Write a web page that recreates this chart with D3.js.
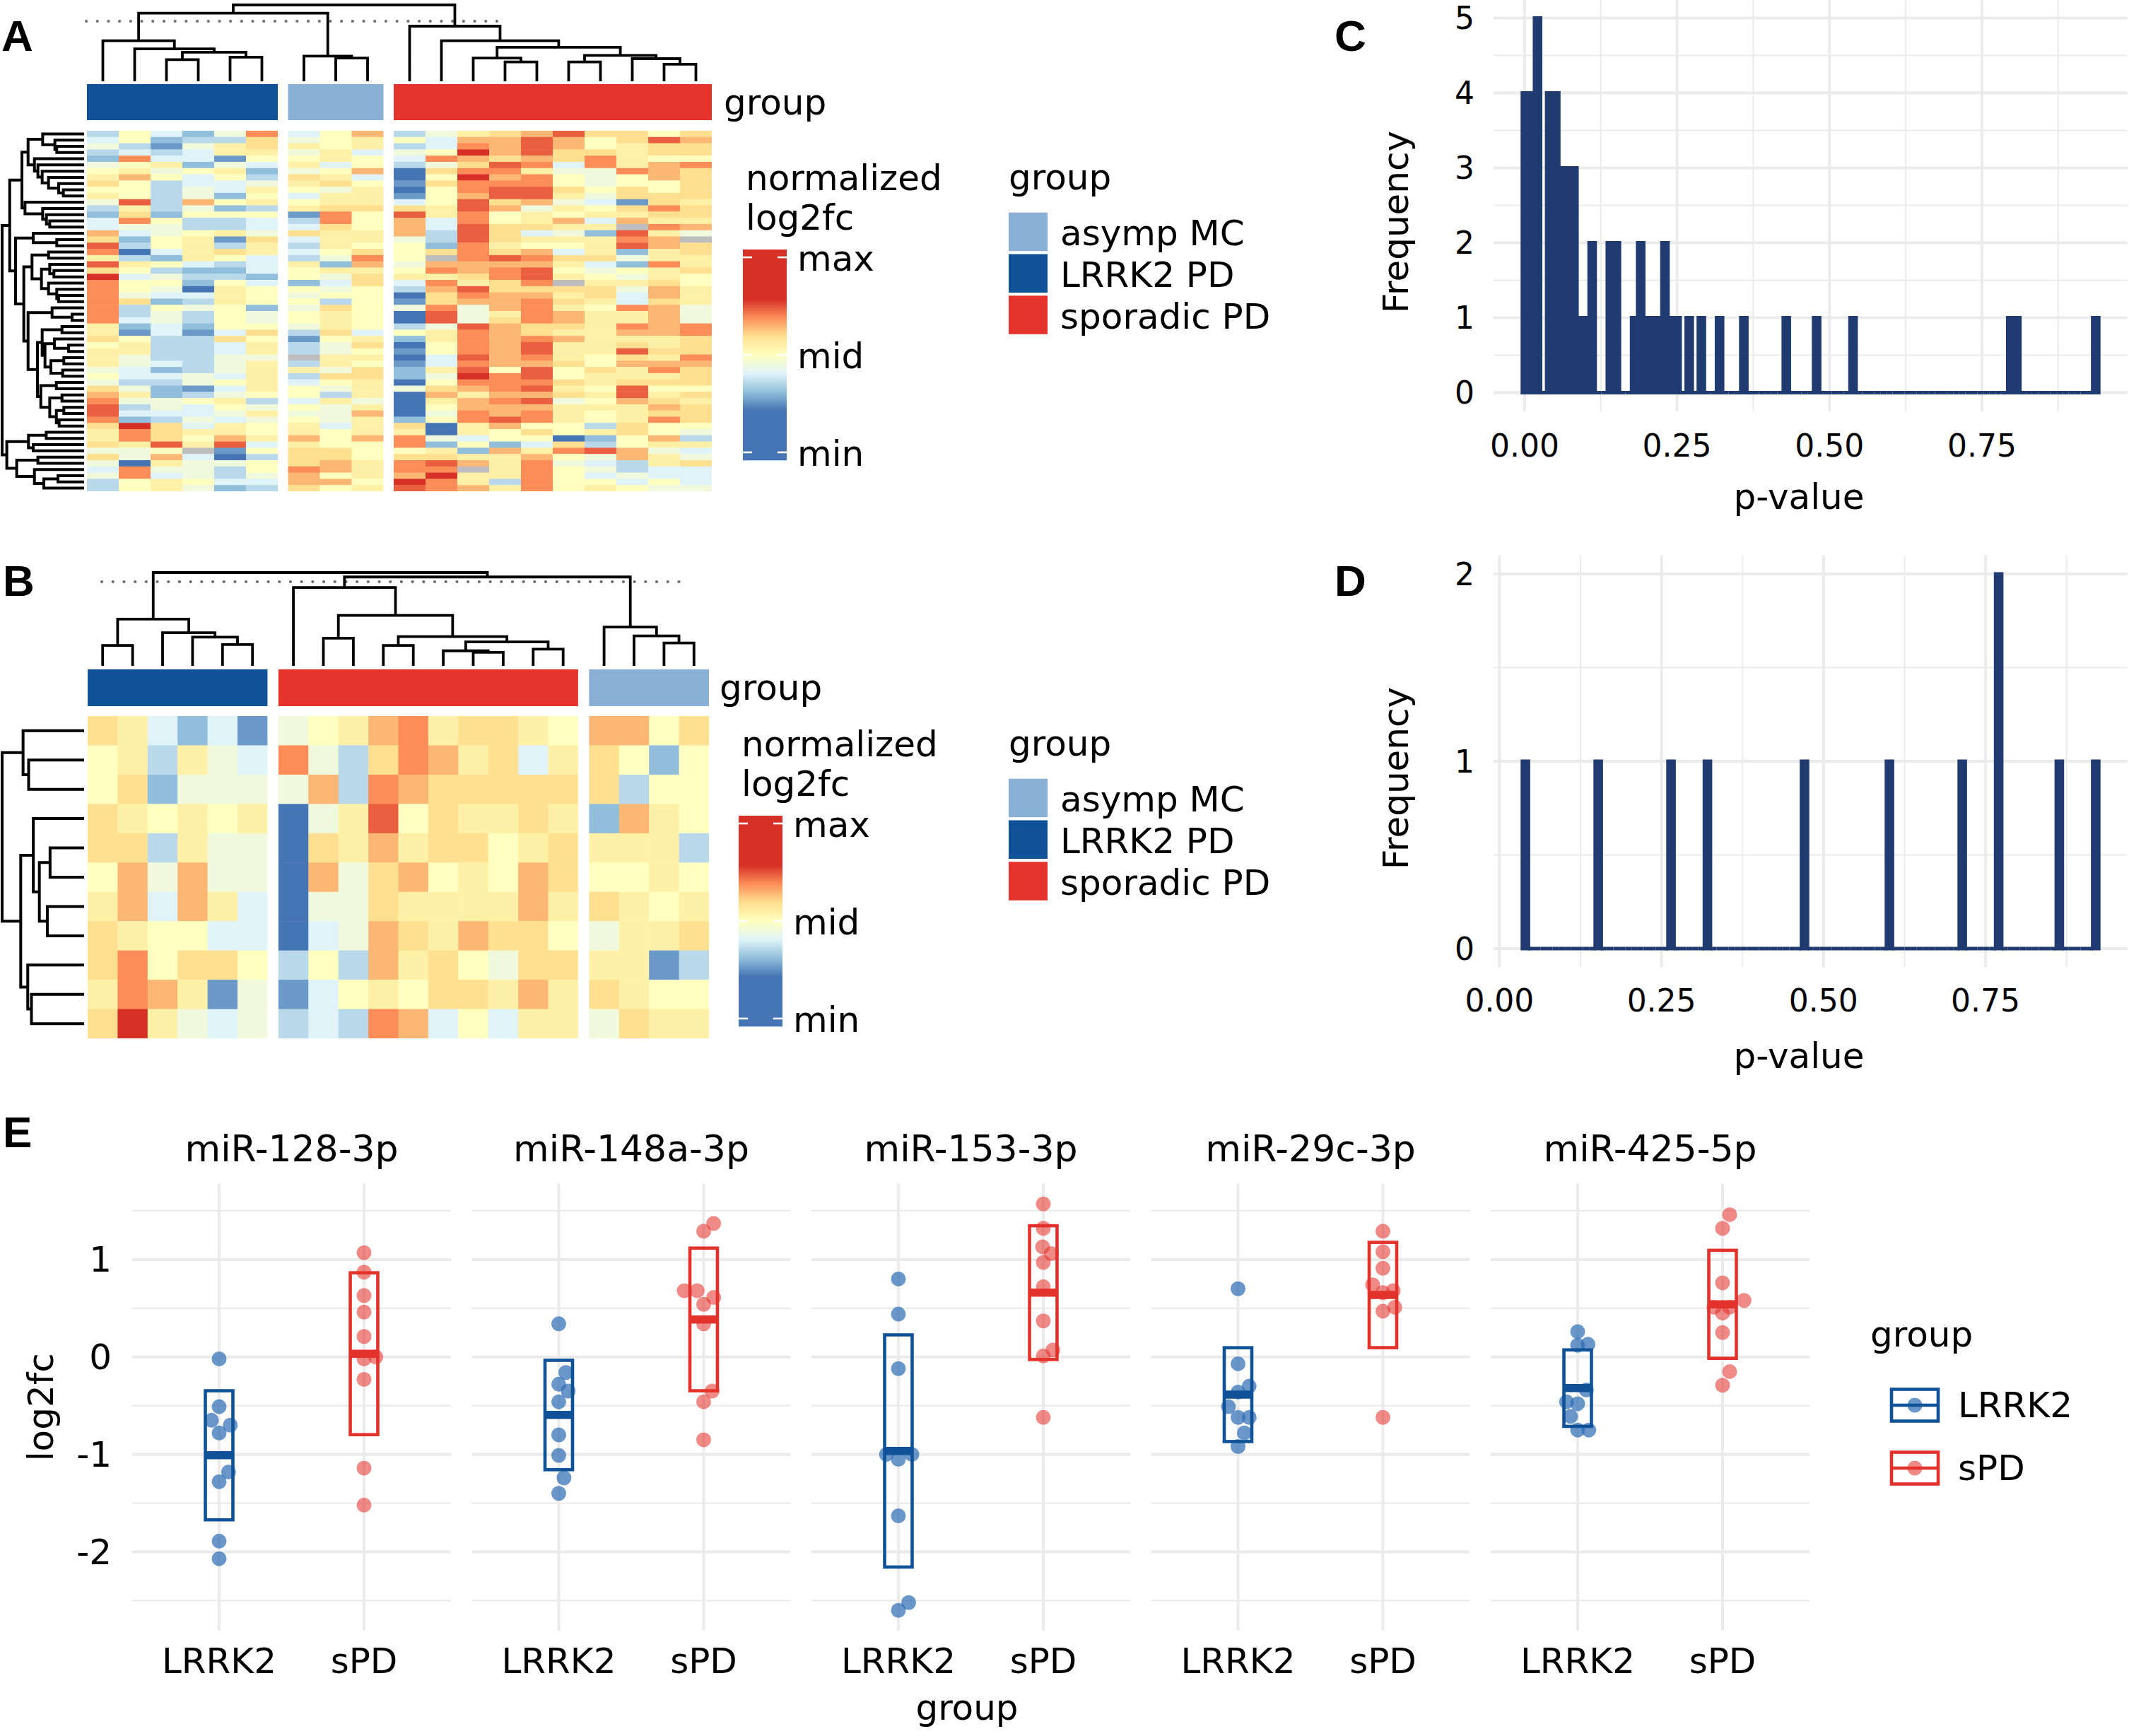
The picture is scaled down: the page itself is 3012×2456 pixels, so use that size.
<!DOCTYPE html>
<html>
<head>
<meta charset="utf-8">
<title>Figure</title>
<script src="https://cdn.jsdelivr.net/npm/d3@7/dist/d3.min.js"></script>
<style>
html,body{margin:0;padding:0;background:#fff;}
svg{display:block;}
</style>
</head>
<body>
<svg id="fig" xmlns="http://www.w3.org/2000/svg" width="3012" height="2456"></svg>
<script>
// ====================== DATA ======================
// Heatmap cells, 13 levels: A = min (deep blue) ... G = mid ... M = max (deep red); x = NA (grey)
const heatLevels = "ABCDEFGHIJKLM";

const heatAGroups = ["LRRK2 PD", "asymp MC", "sporadic PD"];
const heatAGroupSizes = [6, 3, 10];
const heatARows = [
"DGECFK EGJ DFHIJLIIGI","EGCDDI FGH GEJJLJGILJ","FDBFHI HGH DEKJLJGHII","DEDEHH FHE FGMJLIIHII",
"CKEEBG GHG EKJIJIKHGG","FGHCFE HEG DFILKEKHJK","GHFGHC FGJ AIKKHFFKJI","HJGEGD IHE AGMJKGFGJI",
"IGDEEF HIG BIKKKGFGGI","GGDFEH GFH AGKLLIGIGI","HGDFCG EHH BGJLLHFIII","FLDJGH GHH EGLIJFEBIH",
"DHDFCD HII IHLJFHGIKI","CICGGG BKG LHKGHGHHII","EKGDDE DKG JEKGHJEJHH","EFFDDE EIG JELIIHHxKJ",
"JEFGHF IHH JDLIEFCLHF","ICGHBI EHH FDLIHHHKJx","LDGHDH DHG GCKHGGHLJI","KAEHIH EGI GIKIJEHCHI",
"HDCHGE DFK GxKLKIIFHH","LHGEDE HCJ FJJJJHECKH","IGDCCE GHH GKJKLGFGHI","MEFDDC GFI HHIKLHGFHG",
"KGGCGE CEI EKHIKxHHIG","KGFAHG GFG DJLIIIIFJH","KFEEHG FGG AIKJJHIEJH","KICDHG GDG BIJJKIHEIH",
"KDGFGC FIG FKFJKHGKJF","KDFDGF GHG ALFHKJHHJF","KEFDGF GHG ALFIKJHHJF","HCECGG FHG DFLJIIHKJK",
"HBEBEI DIE GHKJIHHJJK","IGDDIG BGH CHKJKJHHHI","GHDDEH DFI AGKJLHHIHI","HHDDEH DFG BGKJLHHLII",
"HFDDFF xHH AELJKHGIHK","HFEDFH DHG BEKJJIGJJJ","FECDFH HFI CHLGLGIHKI","GEEFEH DII CFMKLGHHHI",
"FDDFGH EGH AGKKKIHIII","IFCBEH GFH FIJKLHGLGG","JHCDFG GDH AJHJJIHLHI","KFFGHD EHF AHJKLFGJIH",
"LDFEGF GFH AGJJJHHHJI","LEEEFH FFJ AFKJKHGHII","KCDFEF GFH CGKLKHGHKI","IMIEHG HEH IAHJGGDIGG",
"HKIHHG HGH HAHGIGHIGF","HKIGJH JGJ KFEGGACGJD","IHLHLE HGG KCGCEIDGHH","FFGxBG IIG GHCJHKLJFE",
"IFJEAD IIG IIHHJGFJHF","FAHFFG IJH KLJHKFEDHI","EKFFDG KJH KKxHKGFDEE","FKEFDF JGH JMHHKGEFEE",
"DGHGEE JJG MKHDKGGEGE","DGHFCD IGH LKJHKGHGFF"
];

const heatBGroups = ["LRRK2 PD", "sporadic PD", "asymp MC"];
const heatBGroupSizes = [6, 10, 4];
const heatBRows = [
"IHECEB FGHJKHIIHG JJGI","GHDHFE KFDIKJHIEH IGCG","GICFFF FJDKJIIIII IDGG","IHGHGH AFHLGIHHIH CJHG",
"IIDHFF AIHJHIIGHI HHHD","GJFJFF AJFIJGHGJI GGHG","HJEJHE AFFIHHHHJH IHGH","IHGGEE AEFJIHJIIG FHHI",
"IKGIIG DGDJHIGFII HHBD","HKJHBF BEGHGIIHJH IHGG","IMHFEF DEDKJEGEHH FIHH"
];

const legendGroups = ["asymp MC", "LRRK2 PD", "sporadic PD"];
const legendScaleLabels = ["max", "mid", "min"];
const legendScaleValues = [1.75, 0, -1.75];

// Dendrograms: [merge height (0..1), left, right]; integers are leaf indices
const colTreeA = [1.0,
  [0.891,
    [0.522, 0, [0.413, 1, [0.370, [0.270, 2, 3], [0.304, 4, 5]]]],
    [0.317, 6, [0.291, 7, 8]]],
  [0.717, 9, [0.522, 10, [0.435, [0.291, 11, [0.239, 12, 13]], [0.326, [0.239, 14, 15], [0.283, 16, [0.209, 17, 18]]]]]]
];
const rowTreeA = [1.0,
  [0.906,
    [0.754,
      [0.678,
        [0.497, 0, [0.345, 1, [0.322, 2, 3]]],
        [0.599, 4, [0.556, 5, [0.503, 6, [0.424, 7, [0.298, 8, [0.240, 9, 10]]]]]]],
      [0.716, 11, [0.497, 12, [0.450, 13, [0.409, 14, 15]]]]],
    [0.833,
      [0.614, 16, [0.322, 17, 18]],
      [0.731,
        [0.629, [0.424, 19, 20], [0.512, [0.409, 21, [0.357, 22, 23]], [0.424, 24, [0.322, 25, [0.298, 26, 27]]]]],
        [0.678, [0.380, 28, [0.132, 29, 30]],
          [0.561,
            [0.503, [0.257, 31, 32], [0.468, [0.351, 33, [0.175, 34, 35]], [0.395, [0.234, 36, 37], [0.249, 38, 39]]]],
            [0.520, [0.327, 40, 41], [0.409, [0.257, 42, 43], [0.327, [0.234, 44, 45], [0.292, 46, 47]]]]]]]]],
  [0.942,
    [0.673, [0.453, 48, 49], [0.614, 50, 51]],
    [0.819, [0.556, 52, 53], [0.599, 54, [0.482, [0.307, 55, 56], 57]]]]
];
const colTreeB = [1.0,
  [0.493, [0.207, 0, 1], [0.345, 2, [0.297, 3, [0.217, 4, 5]]]],
  [0.952,
    [0.838, 6, [0.534, [0.286, 7, 8], [0.303, [0.207, 9, 10], [0.245, [0.148, 11, [0.131, 12, 13]], [0.166, 14, 15]]]]],
    [0.407, 16, [0.310, 17, [0.234, 18, 19]]]]
];
const rowTreeB = [1.0,
  [0.740, 0, [0.671, 1, 2]],
  [0.769, [0.613, 3, [0.538, [0.405, 4, 5], [0.439, 6, 7]]], [0.682, 8, [0.636, 9, 10]]]
];
const cutHeightA = 0.783, cutHeightB = 0.9;

// Histograms C and D (p-values)
const pValuesC = [
0.00135,0.002,0.004,0.005, 0.008,0.010,0.012,0.015, 0.017,0.019,0.021,0.023,0.025,
0.037,0.039,0.042,0.045, 0.047,0.050,0.052,0.055, 0.058,0.061,0.064, 0.068,0.071,0.074,
0.078,0.081,0.084, 0.091, 0.101, 0.108,0.113, 0.138,0.143, 0.148,0.153, 0.181, 0.188,0.193,
0.200, 0.210, 0.220, 0.228,0.233, 0.240, 0.250, 0.270, 0.290, 0.320, 0.359, 0.429, 0.479,
0.539, 0.797, 0.807, 0.9366
];
const pValuesD = [0.040, 0.150, 0.261, 0.321, 0.471, 0.601, 0.711, 0.770, 0.772, 0.860, 0.920];
const histBins = 95;
const histXTicks = [0, 0.25, 0.5, 0.75];
const histXLabels = ["0.00", "0.25", "0.50", "0.75"];

// Panel E
const eFacets = ["miR-128-3p", "miR-148a-3p", "miR-153-3p", "miR-29c-3p", "miR-425-5p"];
const eGroups = ["LRRK2", "sPD"];
const eLRRK2 = [
  [-0.02, -0.51, -0.65, -0.70, -0.78, -1.18, -1.28, -1.89, -2.07],
  [0.34, -0.16, -0.28, -0.35, -0.46, -0.80, -1.01, -1.24, -1.40],
  [0.80, 0.44, -0.12, -1.00, -1.05, -1.00, -1.63, -2.52, -2.60],
  [0.70, -0.07, -0.36, -0.30, -0.51, -0.62, -0.62, -0.78, -0.92],
  [0.26, 0.12, 0.13, -0.34, -0.46, -0.48, -0.61, -0.75, -0.75]
];
const eSPD = [
  [1.07, 0.87, 0.63, 0.46, 0.21, 0.00, -0.02, -0.23, -1.14, -1.52],
  [1.37, 1.29, 0.68, 0.68, 0.61, 0.54, 0.34, -0.35, -0.46, -0.85],
  [1.57, 1.32, 1.13, 1.06, 0.97, 0.72, 0.37, 0.07, 0.01, -0.62],
  [1.29, 1.08, 0.91, 0.74, 0.68, 0.66, 0.51, 0.47, -0.62],
  [1.46, 1.32, 0.76, 0.58, 0.51, 0.51, 0.45, 0.25, -0.15, -0.29]
];
// horizontal jitter of each point (in category units)
const eLRRK2Jitter = [
  [0, 0, -0.053, 0.077, 0, 0.065, 0, 0, 0],
  [0, 0.049, 0, 0.065, 0, 0, 0, 0.036, 0],
  [0, 0, 0, -0.082, 0, 0.093, 0, 0.071, 0],
  [0, 0, 0, 0.077, -0.066, 0, 0.077, 0.044, 0],
  [0, 0, 0.071, 0.06, -0.077, 0, -0.049, 0, 0.077]
];
const eSPDJitter = [
  [0, 0, 0, 0, 0, 0.081, 0, 0, 0, 0],
  [0.069, 0, -0.134, -0.045, 0.069, 0, 0, 0.058, 0, 0],
  [0, 0, -0.005, 0.055, 0, 0, 0, 0.066, 0, 0],
  [0, 0, 0, -0.071, 0.071, 0, 0.082, 0, 0],
  [0.049, 0, 0, 0.148, -0.06, 0.049, 0, 0, 0.049, 0]
];
const eYTicks = [-2, -1, 0, 1];

// ====================== STYLE ======================
const FONT = "'DejaVu Sans', Verdana, sans-serif";
const groupColor = new Map([["LRRK2 PD", "#0F5298"], ["asymp MC", "#8AAFD5"], ["sporadic PD", "#E3332A"]]);
const eLineColor = ["#0F5298", "#E3322B"];
const ePointColor = ["#2D6CB5", "#E3322A"];
const ePointOpacity = [0.71, 0.57];
const histColor = "#1F3B70";
const gridColor = "#EBEBEB";
const hmColor = d3.scaleLinear()
  .domain([-1, -2/3, -1/3, 0, 1/3, 2/3, 1])
  .range(["#4575B4", "#91BFDB", "#E0F3F8", "#FFFFBF", "#FEE090", "#FC8D59", "#D73027"])
  .clamp(true);
const decode = ch => ch === "x" ? NaN : (heatLevels.indexOf(ch) - 6) / 6;
const cellFill = v => isNaN(v) ? "#BEBEBE" : hmColor(v);

const svg = d3.select("#fig");
svg.append("rect").attr("width", 3012).attr("height", 2456).attr("fill", "#fff");
const fig = svg.append("g").attr("font-family", FONT);

function txt(g, x, y, s, size, opt = {}) {
  const t = g.append("text").attr("x", x).attr("y", y).attr("font-size", size).attr("fill", opt.fill || "#000").text(s);
  if (opt.anchor) t.attr("text-anchor", opt.anchor);
  if (opt.base) t.attr("dominant-baseline", opt.base);
  if (opt.weight) t.attr("font-weight", opt.weight);
  if (opt.family) t.attr("font-family", opt.family);
  if (opt.rotate) t.attr("transform", `rotate(${opt.rotate},${x},${y})`);
  return t;
}

function dendro(g, tree, leafPos, hScale, vertical, sw) {
  const segs = [];
  function rec(node) {
    if (typeof node === "number") return { p: leafPos(node), h: 0 };
    const [h, l, r] = node;
    const a = rec(l), b = rec(r);
    if (vertical) segs.push(`M${a.p},${hScale(a.h)}V${hScale(h)}H${b.p}V${hScale(b.h)}`);
    else segs.push(`M${hScale(a.h)},${a.p}H${hScale(h)}V${b.p}H${hScale(b.h)}`);
    return { p: (a.p + b.p) / 2, h };
  }
  rec(tree);
  g.append("path").attr("d", segs.join("")).attr("fill", "none").attr("stroke", "#000")
    .attr("stroke-width", sw).attr("stroke-linecap", "square").attr("stroke-linejoin", "miter");
}

// ====================== HEATMAPS ======================
function drawHeatmap(o) {
  const g = fig.append("g");
  const colGroup = [];
  o.sizes.forEach((n, gi) => { for (let k = 0; k < n; k++) colGroup.push(gi); });
  const nCols = colGroup.length;
  const xIdx = d3.scaleLinear().domain([0, nCols]).range([o.x0, o.x0 + nCols * o.cellW]);
  const colX = i => xIdx(i) + colGroup[i] * o.gap;
  const yRow = d3.scaleBand().domain(d3.range(o.rows.length)).range([o.top, o.bottom]);
  const cells = [];
  o.rows.forEach((s, r) => s.replace(/\s+/g, "").split("").forEach((ch, c) => cells.push({ r, c, v: decode(ch) })));
  g.selectAll("rect.cell").data(cells).join("rect")
    .attr("x", d => colX(d.c)).attr("y", d => yRow(d.r))
    .attr("width", d => o.cellW + (colGroup[d.c + 1] === colGroup[d.c] ? 0.6 : 0))
    .attr("height", d => yRow.bandwidth() + (d.r < o.rows.length - 1 ? 0.5 : 0))
    .attr("fill", d => cellFill(d.v));
  // annotation bar
  o.groups.forEach((name, gi) => {
    const first = colGroup.indexOf(gi), last = colGroup.lastIndexOf(gi);
    g.append("rect").attr("x", colX(first)).attr("y", o.barTop)
      .attr("width", colX(last) + o.cellW - colX(first)).attr("height", o.barBottom - o.barTop)
      .attr("fill", groupColor.get(name));
  });
  txt(g, o.labelX, (o.barTop + o.barBottom) / 2, "group", 50, { base: "central" });
  // column dendrogram
  const hCol = d3.scaleLinear().domain([0, 1]).range([o.colLeafY, o.colTopY]);
  g.append("line").attr("x1", o.dotX0).attr("x2", o.dotX1).attr("y1", hCol(o.cut)).attr("y2", hCol(o.cut))
    .attr("stroke", "#6E6E6E").attr("stroke-width", 4.2).attr("stroke-linecap", "round").attr("stroke-dasharray", "0.1 15.6");
  dendro(g, o.colTree, i => colX(i) + o.cellW / 2, hCol, true, 3.8);
  // row dendrogram
  const hRow = d3.scaleLinear().domain([0, 1]).range([117, 3]);
  dendro(g, o.rowTree, i => yRow(i) + yRow.bandwidth() / 2, hRow, false, 4);
  // panel letter
  txt(g, o.letterX, o.letterY, o.letter, 62, { weight: "bold", family: "'Liberation Sans', Arial, sans-serif" });
}

drawHeatmap({
  rows: heatARows, groups: heatAGroups, sizes: heatAGroupSizes,
  x0: 123, cellW: 45, gap: 14.5, top: 185, bottom: 695, barTop: 119, barBottom: 170,
  colTree: colTreeA, colLeafY: 113, colTopY: 7, cut: cutHeightA, dotX0: 122, dotX1: 717,
  rowTree: rowTreeA, labelX: 1024, letter: "A", letterX: 2, letterY: 72
});
drawHeatmap({
  rows: heatBRows, groups: heatBGroups, sizes: heatBGroupSizes,
  x0: 124, cellW: 42.4, gap: 15.5, top: 1013, bottom: 1469, barTop: 947, barBottom: 999,
  colTree: colTreeB, colLeafY: 940, colTopY: 810, cut: cutHeightB, dotX0: 144, dotX1: 967,
  rowTree: rowTreeB, labelX: 1018, letter: "B", letterX: 4, letterY: 843
});

function drawHeatLegend(dxBar, dy) {
  const g = fig.append("g");
  txt(g, 1055 + dxBar, 269 + dy, "normalized", 50);
  txt(g, 1055 + dxBar, 325 + dy, "log2fc", 50);
  const ly = d3.scaleLinear().domain([-1.89, 1.89]).range([651 + dy, 353 + dy]);
  const steps = d3.range(353 + dy, 651 + dy, 1);
  g.selectAll("rect.grad").data(steps).join("rect")
    .attr("x", 1051 + dxBar).attr("y", d => d).attr("width", 62).attr("height", 1.3)
    .attr("fill", d => hmColor(ly.invert(d + 0.5)));
  legendScaleValues.forEach((v, i) => {
    const y = ly(v);
    g.append("line").attr("x1", 1051 + dxBar).attr("x2", 1064 + dxBar).attr("y1", y).attr("y2", y).attr("stroke", "#fff").attr("stroke-width", 2.6);
    g.append("line").attr("x1", 1100 + dxBar).attr("x2", 1113 + dxBar).attr("y1", y).attr("y2", y).attr("stroke", "#fff").attr("stroke-width", 2.6);
    txt(g, 1128 + dxBar, y + 19, legendScaleLabels[i], 50);
  });
  txt(g, 1427, 268 + dy, "group", 50);
  legendGroups.forEach((name, i) => {
    g.append("rect").attr("x", 1427).attr("y", 300.7 + dy + i * 58.8).attr("width", 55).attr("height", 54.5)
      .attr("fill", groupColor.get(name));
    txt(g, 1500, 347 + dy + i * 58.8, name, 50);
  });
}
drawHeatLegend(0, 0);
drawHeatLegend(-6, 801);

// ====================== HISTOGRAMS ======================
function drawHist(o) {
  const g = fig.append("g");
  const mn = d3.min(o.values), mx = d3.max(o.values);
  const bw = (mx - mn) / (histBins - 1);
  const edges = d3.range(histBins + 1).map(k => mn - bw / 2 + k * bw);
  const bins = d3.bin().domain([edges[0], edges[histBins]]).thresholds(edges.slice(1, histBins))(o.values);
  const maxC = d3.max(bins, b => b.length);
  const lo = edges[0], hi = edges[histBins], r = hi - lo;
  const x = d3.scaleLinear().domain([lo - 0.05 * r, hi + 0.05 * r]).range([2113, 3010]);
  const y = d3.scaleLinear().domain([-0.05 * maxC, 1.05 * maxC]).range([o.bottom, o.bottom - 583]);
  const [y0, y1] = y.range();
  const [xa, xb] = x.range();
  const yMajor = d3.range(0, maxC + 1);
  const yMinor = d3.range(0.5, maxC, 1);
  const xMinor = histXTicks.map(t => t + 0.125).filter(t => t < x.domain()[1]);
  yMinor.forEach(t => g.append("line").attr("x1", xa).attr("x2", xb).attr("y1", y(t)).attr("y2", y(t)).attr("stroke", gridColor).attr("stroke-width", 2));
  xMinor.forEach(t => g.append("line").attr("x1", x(t)).attr("x2", x(t)).attr("y1", y0).attr("y2", y1).attr("stroke", gridColor).attr("stroke-width", 2));
  yMajor.forEach(t => g.append("line").attr("x1", xa).attr("x2", xb).attr("y1", y(t)).attr("y2", y(t)).attr("stroke", gridColor).attr("stroke-width", 3.8));
  histXTicks.forEach(t => g.append("line").attr("x1", x(t)).attr("x2", x(t)).attr("y1", y0).attr("y2", y1).attr("stroke", gridColor).attr("stroke-width", 3.8));
  g.selectAll("path.bar").data(bins).join("path")
    .attr("d", b => `M${x(b.x0)},${y(0)}V${y(b.length)}H${x(b.x1)}V${y(0)}Z`)
    .attr("fill", histColor).attr("stroke", histColor).attr("stroke-width", 5).attr("stroke-linejoin", "miter");
  yMajor.forEach(t => txt(g, 2086, y(t), String(t), 44, { anchor: "end", base: "central" }));
  histXTicks.forEach((t, i) => txt(g, x(t), o.tickBase, histXLabels[i], 44, { anchor: "middle" }));
  txt(g, 2545, o.titleBase, "p-value", 50, { anchor: "middle" });
  txt(g, 1975, o.freqY, "Frequency", 50, { anchor: "middle", base: "central", rotate: -90 });
  txt(g, 1888, o.letterY, o.letter, 62, { weight: "bold", family: "'Liberation Sans', Arial, sans-serif" });
}
drawHist({ values: pValuesC, bottom: 582, tickBase: 646, titleBase: 720, freqY: 314, letter: "C", letterY: 72 });
drawHist({ values: pValuesD, bottom: 1368.5, tickBase: 1431, titleBase: 1511, freqY: 1101, letter: "D", letterY: 843 });

// ====================== PANEL E ======================
(function () {
  const g = fig.append("g");
  const eW = 451;
  const panelLeft = d3.scaleLinear().domain([0, 1]).range([187, 667.5]);
  const allV = eLRRK2.flat().concat(eSPD.flat());
  const vMin = d3.min(allV), vMax = d3.max(allV), vr = vMax - vMin;
  const y = d3.scaleLinear().domain([vMin - 0.05 * vr, vMax + 0.05 * vr]).range([2307, 1674.5]);
  const [yb, yt] = y.range();
  const yMinor = [eYTicks[0] - 0.5].concat(eYTicks.map(t => t + 0.5)).filter(t => t > y.domain()[0] && t < y.domain()[1]);
  const halfW = 0.095;
  eFacets.forEach((name, f) => {
    const left = panelLeft(f);
    const x = d3.scaleLinear().domain([0.4, 2.6]).range([left, left + eW]);
    const pg = g.append("g");
    yMinor.forEach(t => pg.append("line").attr("x1", left).attr("x2", left + eW).attr("y1", y(t)).attr("y2", y(t)).attr("stroke", gridColor).attr("stroke-width", 2.2));
    eYTicks.forEach(t => pg.append("line").attr("x1", left).attr("x2", left + eW).attr("y1", y(t)).attr("y2", y(t)).attr("stroke", gridColor).attr("stroke-width", 4.2));
    [1, 2].forEach(c => pg.append("line").attr("x1", x(c)).attr("x2", x(c)).attr("y1", yb).attr("y2", yt).attr("stroke", gridColor).attr("stroke-width", 4));
    const sets = [[eLRRK2[f], eLRRK2Jitter[f]], [eSPD[f], eSPDJitter[f]]];
    sets.forEach(([vals, jit], gi) => {
      const pts = vals.map((v, i) => ({ v, j: jit[i] }));
      pg.selectAll(null).data(pts).join("circle")
        .attr("cx", d => x(gi + 1 + d.j)).attr("cy", d => y(d.v)).attr("r", 10.5)
        .attr("fill", ePointColor[gi]).attr("fill-opacity", ePointOpacity[gi]);
    });
    sets.forEach(([vals], gi) => {
      const m = d3.mean(vals), sd = d3.deviation(vals);
      const c = gi + 1;
      pg.append("rect").attr("x", x(c - halfW)).attr("y", y(m + sd))
        .attr("width", x(c + halfW) - x(c - halfW)).attr("height", y(m - sd) - y(m + sd))
        .attr("fill", "none").attr("stroke", eLineColor[gi]).attr("stroke-width", 4.6);
      pg.append("line").attr("x1", x(c - halfW)).attr("x2", x(c + halfW)).attr("y1", y(m)).attr("y2", y(m))
        .attr("stroke", eLineColor[gi]).attr("stroke-width", 11.5);
    });
    txt(pg, left + eW / 2, 1643, name, 52, { anchor: "middle" });
    eGroups.forEach((lab, gi) => txt(pg, x(gi + 1), 2367, lab, 50, { anchor: "middle" }));
  });
  eYTicks.forEach(t => txt(g, 158, y(t), String(t), 50, { anchor: "end", base: "central" }));
  txt(g, 58, (yb + yt) / 2, "log2fc", 50, { anchor: "middle", base: "central", rotate: -90 });
  txt(g, 1368, 2433, "group", 50, { anchor: "middle" });
  txt(g, 4, 1623, "E", 62, { weight: "bold", family: "'Liberation Sans', Arial, sans-serif" });
  // legend
  txt(g, 2646, 1905, "group", 50);
  const keyY = d3.scaleLinear().domain([0, 1]).range([1988, 2077]);
  eGroups.forEach((lab, gi) => {
    const cy = keyY(gi);
    g.append("circle").attr("cx", 2709).attr("cy", cy).attr("r", 10.5).attr("fill", ePointColor[gi]).attr("fill-opacity", ePointOpacity[gi]);
    g.append("rect").attr("x", 2676).attr("y", cy - 22.5).attr("width", 66).attr("height", 45)
      .attr("fill", "none").attr("stroke", eLineColor[gi]).attr("stroke-width", 4.6);
    g.append("line").attr("x1", 2676).attr("x2", 2742).attr("y1", cy).attr("y2", cy).attr("stroke", eLineColor[gi]).attr("stroke-width", 4.6);
    txt(g, 2770, cy, lab, 50, { base: "central" });
  });
})();
</script>
</body>
</html>
